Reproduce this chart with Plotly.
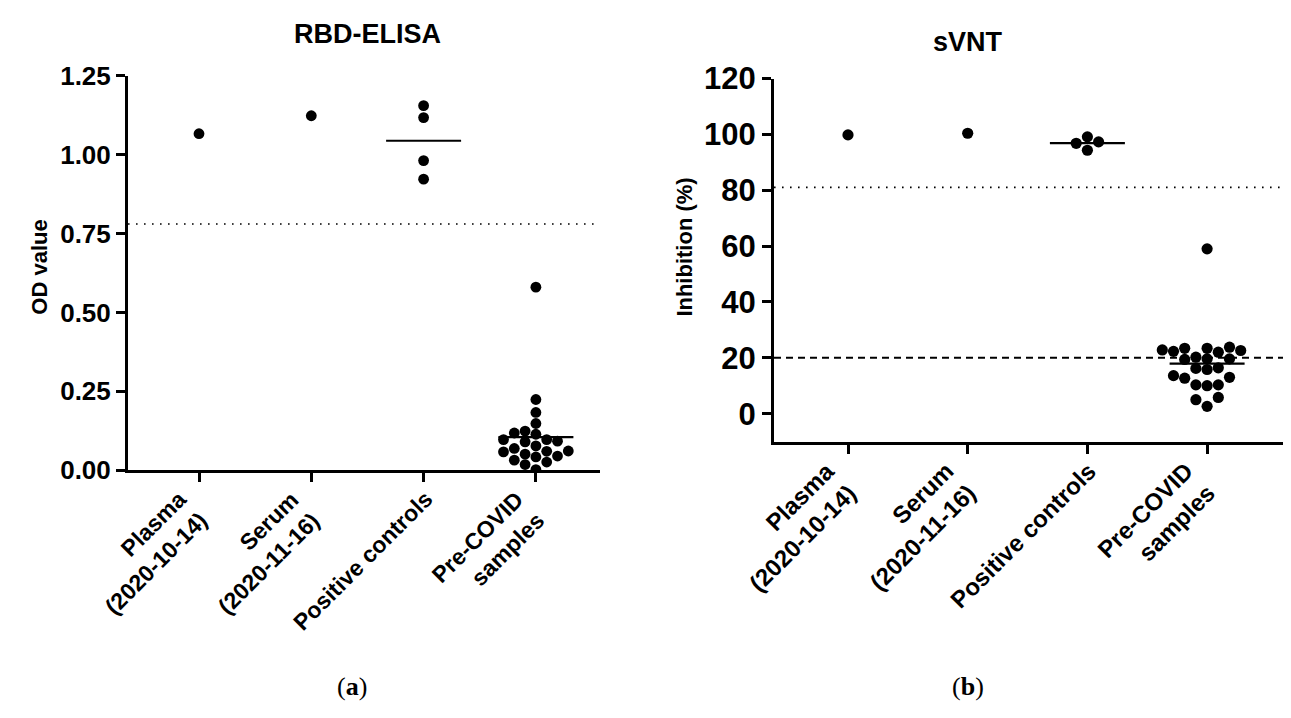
import numpy as np
import plotly.graph_objects as go

# ---------------- data ----------------
categories = ["Plasma<br>(2020-10-14)", "Serum<br>(2020-11-16)", "Positive controls", "Pre-COVID<br>samples"]

elisa_plasma = [1.066]
elisa_serum = [1.123]
elisa_positive = [1.155, 1.117, 0.981, 0.922]
elisa_precovid = [0.580, 0.224, 0.183, 0.148, 0.124, 0.118, 0.114, 0.097, 0.097, 0.092,
                  0.090, 0.077, 0.069, 0.061, 0.060, 0.058, 0.051, 0.045, 0.042, 0.032,
                  0.026, 0.018, 0.002]
elisa_cutoff = 0.78

svnt_plasma = [99.8]
svnt_serum = [100.4]
svnt_positive = [99.1, 94.3, 97.3, 96.8]
svnt_precovid = [59.0, 23.8, 23.4, 23.4, 22.8, 22.6, 22.3, 22.0, 20.2, 19.6, 19.6, 19.4,
                 16.4, 16.2, 15.8, 13.6, 13.0, 12.7, 10.3, 10.3, 10.0, 5.8, 5.0, 2.6]
svnt_cutoff_dotted = 81.0
svnt_cutoff_dashed = 20.0

elisa_yticks = [0, 0.25, 0.50, 0.75, 1.00, 1.25]
svnt_yticks = [0, 20, 40, 60, 80, 100, 120]

# ---------------- layout geometry (pixels) ----------------
W, H = 1291, 718
L = dict(x0=120, x1=592, yb=466, yt=53, cat0=191, dcat=112.3, yr=(0, 1.25), d=10.8,
         tf=26, cf=23, xs=16, ys=-13)
R = dict(x0=766, x1=1283, yb=436, yt=56, cat0=840, dcat=119.7, yr=(-10, 120), d=11.2,
         tf=31, cf=24, xs=16, ys=-13)

for P in (L, R):
    P["xr"] = [(P["x0"] - P["cat0"]) / P["dcat"], (P["x1"] - P["cat0"]) / P["dcat"]]
    P["ppu"] = (P["yb"] - P["yt"]) / (P["yr"][1] - P["yr"][0])


def swarm(values, P):
    """Beeswarm offsets (category units) on a column grid of one marker diameter."""
    vals = np.asarray(values, float)
    order = np.argsort(vals)
    placed = []
    offs = np.zeros(len(vals))
    for i in order:
        y = vals[i] * P["ppu"]
        for k in [0, -1, 1, -2, 2, -3, 3, -4, 4, -5, 5]:
            if all(not (kk == k and abs(yy - y) < P["d"] * 0.98) for yy, kk in placed):
                placed.append((y, k))
                offs[i] = k * P["d"] / P["dcat"]
                break
    return offs


fig = go.Figure()

font_fam = "Liberation Sans, Arial, sans-serif"


def add_panel(P, groups, xa, ya):
    for ci, vals in enumerate(groups):
        vals = list(vals)
        offs = swarm(vals, P) if len(vals) > 1 else np.zeros(len(vals))
        fig.add_trace(go.Scatter(
            x=ci + offs, y=vals, mode="markers", xaxis=xa, yaxis=ya,
            marker=dict(color="black", size=P["d"], line=dict(width=0)),
            showlegend=False, hoverinfo="y"))
        if len(vals) > 1:
            m = float(np.mean(vals))
            hw = 37.5 / P["dcat"]
            fig.add_trace(go.Scatter(
                x=[ci - hw, ci + hw], y=[m, m], mode="lines", xaxis=xa, yaxis=ya,
                line=dict(color="black", width=2.2), showlegend=False, hoverinfo="skip"))


add_panel(L, [elisa_plasma, elisa_serum, elisa_positive, elisa_precovid], "x", "y")
add_panel(R, [svnt_plasma, svnt_serum, svnt_positive, svnt_precovid], "x2", "y2")

# reference lines
fig.add_shape(type="line", xref="x domain", yref="y", x0=0, x1=1, y0=elisa_cutoff, y1=elisa_cutoff,
              line=dict(color="black", width=1.6, dash="1.6px,6.4px"))
fig.add_shape(type="line", xref="x2 domain", yref="y2", x0=0, x1=1, y0=svnt_cutoff_dotted, y1=svnt_cutoff_dotted,
              line=dict(color="black", width=1.6, dash="1.6px,6.4px"))
fig.add_shape(type="line", xref="x2 domain", yref="y2", x0=0, x1=1, y0=svnt_cutoff_dashed, y1=svnt_cutoff_dashed,
              line=dict(color="black", width=2, dash="7px,5px"))


def dom_x(P):
    return [P["x0"] / W, P["x1"] / W]


def dom_y(P):
    return [(H - P["yb"]) / H, (H - P["yt"]) / H]


def axis_common(P):
    return dict(showline=True, linecolor="black", linewidth=3, ticks="outside",
                ticklen=9, tickwidth=3, tickcolor="black", showgrid=False, zeroline=False,
                tickfont=dict(family=font_fam, size=P["tf"], color="black", weight="bold"))


fig.update_layout(
    width=W, height=H, margin=dict(l=0, r=0, t=0, b=0),
    plot_bgcolor="white", paper_bgcolor="white",
    xaxis=dict(domain=dom_x(L), range=L["xr"], tickvals=[0, 1, 2, 3], showticklabels=False,
               anchor="y", **axis_common(L)),
    yaxis=dict(domain=dom_y(L), range=list(L["yr"]), tickvals=elisa_yticks,
               ticktext=[f"{v:.2f}" for v in elisa_yticks], anchor="x", **axis_common(L)),
    xaxis2=dict(domain=dom_x(R), range=R["xr"], tickvals=[0, 1, 2, 3], showticklabels=False,
                anchor="y2", **axis_common(R)),
    yaxis2=dict(domain=dom_y(R), range=list(R["yr"]), tickvals=svnt_yticks,
                ticktext=[str(v) for v in svnt_yticks], anchor="x2", **axis_common(R)),
)

ann = []
bold = dict(family=font_fam, color="black", weight="bold")


def pa(text, xp, yp, size, angle=0, fam=None):
    f = dict(size=size, **bold) if fam is None else dict(size=size, family=fam, color="black")
    return dict(text=text, x=xp / W, y=1 - yp / H, xref="paper", yref="paper",
                xanchor="center", yanchor="middle", textangle=angle, showarrow=False, font=f)


# category labels (rotated, lines right-aligned)
for P, xa, ya in ((L, "x", "y"), (R, "x2", "y2")):
    for ci, lab in enumerate(categories):
        ann.append(dict(text=lab, x=ci, xref=xa, y=0, yref=ya + " domain", xanchor="right",
                        yanchor="top", xshift=P["xs"], yshift=P["ys"], textangle=-45,
                        align="right", showarrow=False, font=dict(size=P["cf"], **bold)))
# titles
ann.append(pa("RBD-ELISA", 359, 9, 27))
ann.append(pa("sVNT", 960, 18, 27))
# axis titles
ann.append(pa("OD value", 32, 254, 22, angle=-90))
ann.append(pa("Inhibition (%)", 677, 233, 22, angle=-90))
# panel letters
ann.append(pa("(<b>a</b>)", 344, 692, 26, fam="Liberation Serif, Times New Roman, serif"))
ann.append(pa("(<b>b</b>)", 960, 692, 26, fam="Liberation Serif, Times New Roman, serif"))
fig.update_layout(annotations=ann)

fig.write_html("out.html")
